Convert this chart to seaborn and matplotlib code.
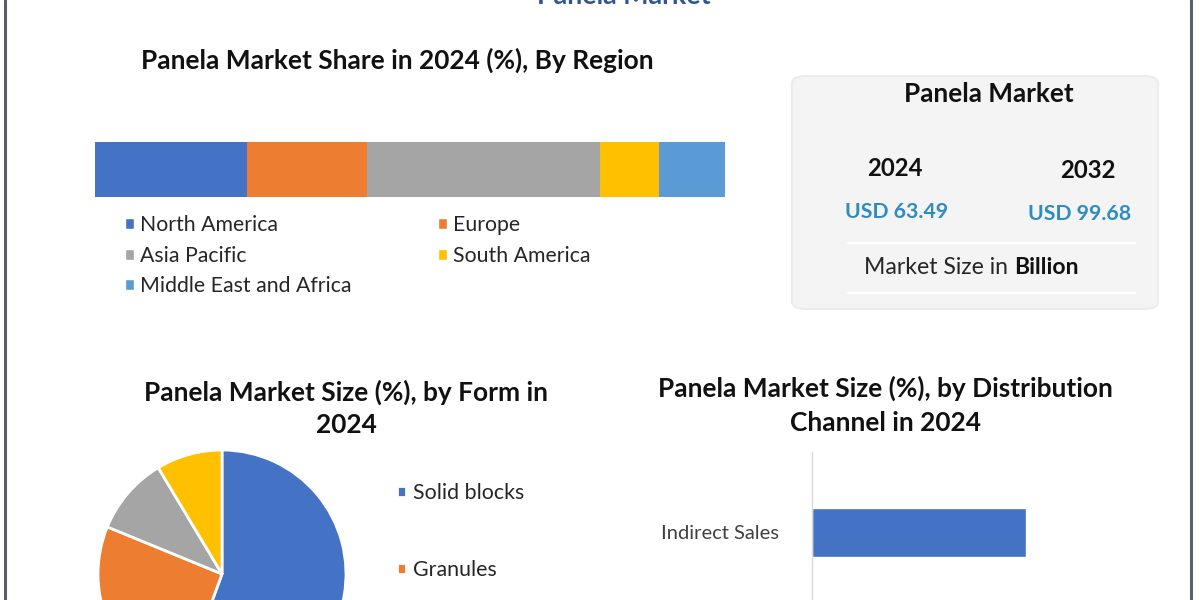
import matplotlib
matplotlib.use("Agg")
import matplotlib.pyplot as plt
import seaborn as sns
import pandas as pd
from matplotlib.patches import FancyBboxPatch, Patch
from matplotlib.lines import Line2D

# datos
regiones = ["North America", "Europe", "Asia Pacific", "South America", "Middle East and Africa"]
cuota_region = [24.1, 19.0, 37.0, 9.5, 10.4]
colores_region = ["#4472C4", "#ED7D31", "#A5A5A5", "#FFC000", "#5B9BD5"]

formas = ["Solid blocks", "Granules"]
cuota_forma = [55.6, 25.6, 10.2, 8.6]
colores_forma = ["#4472C4", "#ED7D31", "#A5A5A5", "#FFC000"]

canales = ["Indirect Sales"]
cuota_canal = [58.0]

anios = ["2024", "2032"]
tam_mercado = ["USD 63.49", "USD 99.68"]

sns.set_theme(style="white")
plt.rcParams["font.family"] = ["Lato", "DejaVu Sans"]

W, H = 1200, 600
fig = plt.figure(figsize=(12, 6), dpi=100)
fig.patch.set_facecolor("white")


def fx(x):
    return x / W


def fy(y):
    return 1 - y / H


TIT = 18.9

# marco
for x in (5, 1191):
    fig.add_artist(Line2D([fx(x), fx(x)], [0, 1], color="#5a5f66", lw=2.2))

# titulo superior cortado
fig.text(fx(624), fy(4), "Panela Market", ha="center", va="baseline",
         fontsize=19.3, fontweight="bold", color="#2F5597")

# ---- barra apilada por region ----
fig.text(fx(397), fy(60), "Panela Market Share in 2024 (%), By Region",
         ha="center", va="center", fontsize=TIT, fontweight="bold", color="#111111")

ax1 = fig.add_axes([fx(95), fy(197), 630 / W, 55 / H])
acumulado = pd.Series(cuota_region).cumsum()
# se dibuja de mayor a menor acumulado para apilar
for i in reversed(range(len(regiones))):
    sns.barplot(x=[acumulado[i]], y=[0], orient="h", color=colores_region[i],
                width=1.0, saturation=1, ax=ax1, linewidth=0)
ax1.set_xlim(0, acumulado.iloc[-1])
ax1.set_ylim(0.5, -0.5)
ax1.axis("off")

handles = [Patch(facecolor=colores_region[i], label=regiones[i]) for i in [0, 2, 4, 1, 3]]
fig.legend(handles=handles, loc="upper left", bbox_to_anchor=(fx(125), fy(215)),
           ncol=2, frameon=False, fontsize=15.3, handlelength=0.42, handleheight=0.42,
           handletextpad=0.3, labelspacing=0.5, columnspacing=4.05,
           borderpad=0, borderaxespad=0, labelcolor="#262626")

# ---- caja derecha ----
caja = FancyBboxPatch((fx(792), fy(309)), 366 / W, 233 / H,
                      boxstyle="round,pad=0,rounding_size=0.012",
                      transform=fig.transFigure, facecolor="#f4f4f4",
                      edgecolor="#ececec", lw=1.5)
fig.add_artist(caja)
fig.text(fx(989), fy(94), "Panela Market", ha="center", va="center",
         fontsize=18.8, fontweight="bold", color="#111111")
for x, yy, anio in zip([895, 1088], [168, 170], anios):
    fig.text(fx(x), fy(yy), anio, ha="center", va="center",
             fontsize=17.2, fontweight="bold", color="#111111")
for x, yy, t in zip([897, 1080], [212, 214], tam_mercado):
    fig.text(fx(x), fy(yy), t, ha="center", va="center",
             fontsize=15.3, fontweight="bold", color="#2E8CC0")
for yy in (243, 293):
    fig.add_artist(Line2D([fx(848), fx(1135)], [fy(yy), fy(yy)], color="white", lw=1.5))
fig.text(fx(1014), fy(268), "Market Size in ", ha="right", va="center",
         fontsize=16.6, color="#262626")
fig.text(fx(1014), fy(268), "Billion", ha="left", va="center",
         fontsize=16.6, fontweight="bold", color="#111111")

# ---- pastel por forma ----
fig.text(fx(346), fy(392), "Panela Market Size (%), by Form in", ha="center",
         va="center", fontsize=TIT, fontweight="bold", color="#111111")
fig.text(fx(346), fy(425), "2024", ha="center", va="center",
         fontsize=TIT, fontweight="bold", color="#111111")

r = 124
ax2 = fig.add_axes([fx(222 - r), fy(574 + r), 2 * r / W, 2 * r / H])
cunas, _ = ax2.pie(cuota_forma, colors=colores_forma, startangle=90, counterclock=False,
                   wedgeprops=dict(edgecolor="white", linewidth=2))
ax2.set_xlim(-1, 1)
ax2.set_ylim(-1, 1)
ax2.set_aspect("equal")
fig.legend(cunas[:2], formas, loc="upper left", bbox_to_anchor=(fx(397), fy(483)),
           frameon=False, fontsize=15.4, handlelength=0.42, handleheight=0.42,
           handletextpad=0.35, labelspacing=2.65, borderpad=0, borderaxespad=0,
           labelcolor="#262626")

# ---- barras por canal ----
fig.text(fx(885), fy(388), "Panela Market Size (%), by Distribution", ha="center",
         va="center", fontsize=TIT, fontweight="bold", color="#111111")
fig.text(fx(885), fy(423), "Channel in 2024", ha="center", va="center",
         fontsize=TIT, fontweight="bold", color="#111111")

ax3 = fig.add_axes([fx(812), fy(760), 369 / W, 308 / H])
sns.barplot(x=cuota_canal, y=canales, orient="h", color="#4472C4", saturation=1,
            width=0.8, ax=ax3)
unidad = 49 / 0.8
ax3.set_ylim((760 - 532) / unidad, -(532 - 452) / unidad)
ax3.set_xlim(0, 100)
ax3.set_facecolor("none")
sns.despine(ax=ax3, left=False, bottom=True, top=True, right=True)
ax3.spines["left"].set_color("#d9d9d9")
ax3.spines["left"].set_linewidth(1)
ax3.set_xticks([])
ax3.set_xlabel("")
ax3.set_ylabel("")
ax3.tick_params(axis="y", length=0, pad=24, labelsize=14.5, labelcolor="#404040")

fig.savefig("out.png", dpi=100)
